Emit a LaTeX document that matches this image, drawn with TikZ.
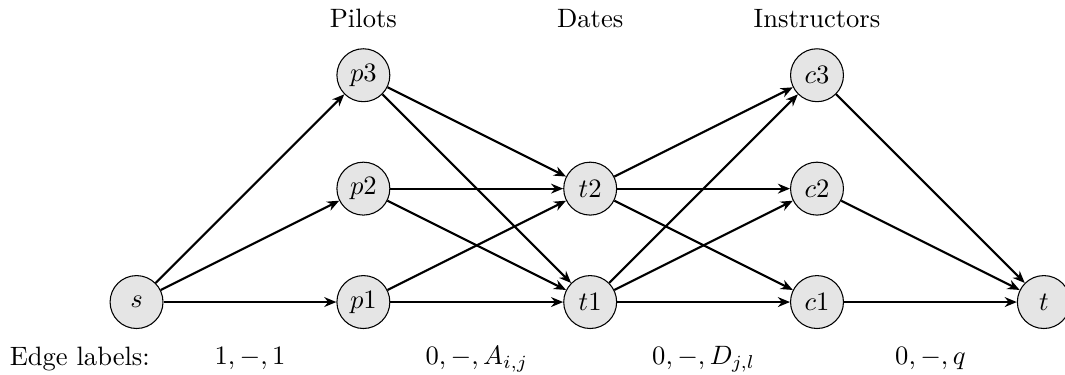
\documentclass[tikz,border=0pt]{standalone}
\usepackage{amsmath}
\usetikzlibrary{arrows.meta, positioning}

\begin{document}
\begin{tikzpicture}[
    node distance=1.5cm and 3cm, on grid,
    vertex/.style={circle, draw, fill=black!10, minimum size=7mm, inner sep=0pt},
    arrow/.style={-{Stealth[length=1.6mm, width=1.3mm]}, thick},
    heading/.style={anchor=center}
]
\useasboundingbox (-1.806,-0.952) rectangle (12.28,3.995);
\node[vertex] (s) {$s$};
\node[vertex, right=of s] (p1) {$p1$};
\node[vertex, above=of p1] (p2) {$p2$};
\node[vertex, above=of p2] (p3) {$p3$};
\node[vertex, right=of p1] (t1) {$t1$};
\node[vertex, above=of t1] (t2) {$t2$};
\node[vertex, right=of t1] (c1) {$c1$};
\node[vertex, above=of c1] (c2) {$c2$};
\node[vertex, above=of c2] (c3) {$c3$};
\node[vertex, right=of c1] (t) {$t$};
% column headings
\node[heading] (hp) at (3,3.75) {Pilots};
\node[heading] (ht) at (6,3.75) {Dates};
\node[heading] (hc) at (9,3.75) {Instructors};
% edge labels
\node (lab) at (-0.75,-0.75) {Edge labels:};
\node (l1) at (1.5,-0.75) {$1,-,1$};
\node (l2) at (4.5,-0.75) {$0,-,A_{i,j}$};
\node (l3) at (7.5,-0.75) {$0,-,D_{j,l}$};
\node (l4) at (10.5,-0.75) {$0,-,q$};
\foreach \p in {p1,p2,p3} {
    \draw[arrow] (s) -- (\p);
    \draw[arrow] (\p) -- (t1);
    \draw[arrow] (\p) -- (t2);
}
\foreach \c in {c1,c2,c3} {
    \draw[arrow] (t1) -- (\c);
    \draw[arrow] (t2) -- (\c);
    \draw[arrow] (\c) -- (t);
}
\end{tikzpicture}
\end{document}
